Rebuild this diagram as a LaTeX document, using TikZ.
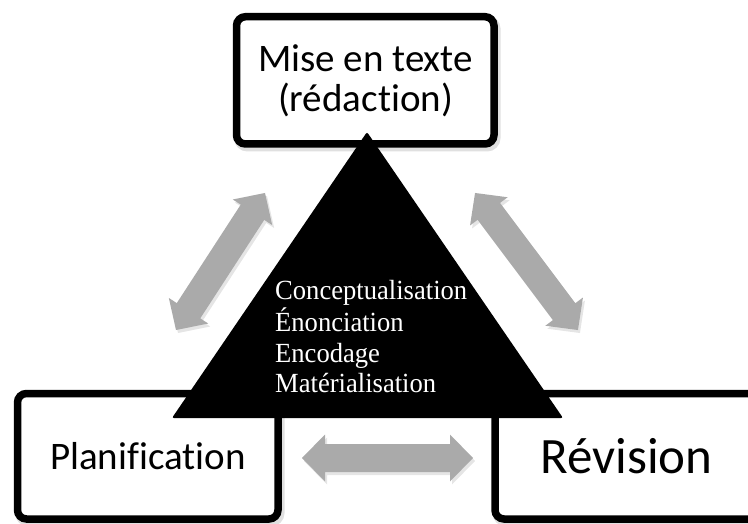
\documentclass[tikz,border=0pt]{standalone}
\usepackage{fontspec}
\setmainfont{Carlito}[Ligatures={NoCommon,NoContextual,NoRare},Contextuals=NoAlternate]
\newfontfamily\serifk{Liberation Serif}
\definecolor{arrowgray}{RGB}{170,170,170}
\newcommand\arrshape[2]{\fill[#2] (-#1/2,0) -- (-#1/2+23,-23.5) -- (-#1/2+23,-14) -- (#1/2-23,-14) -- (#1/2-23,-23.5) -- (#1/2,0) -- (#1/2-23,23.5) -- (#1/2-23,14) -- (-#1/2+23,14) -- (-#1/2+23,23.5) -- cycle;}
\newcommand\dblarr[4]{%
  \begin{scope}[shift={#2}, xshift=2pt, yshift=-3pt, rotate=#3]
    \arrshape{#4}{black, opacity=0.10}
  \end{scope}
  \begin{scope}[shift={#2}, rotate=#3]
    \coordinate (#1) at (0,0);
    \arrshape{#4}{arrowgray}
  \end{scope}}
\newcommand\sq[1]{\scalebox{0.96}[1]{#1}}
\begin{document}
\begin{tikzpicture}[x=1pt,y=-1pt,
  box/.style={draw=black, line width=7.5pt, rounded corners=9pt, fill=white, inner sep=0pt},
  boxshadow/.style={draw=black, line width=9pt, rounded corners=9pt, opacity=0.12},
  lbl/.style={font=\fontsize{39}{42}\selectfont, inner sep=0pt, anchor=base},
  inner/.style={font=\serifk\fontsize{27.7}{30}\selectfont, text=white, anchor=base west, inner sep=0pt}]
\useasboundingbox (0,0) rectangle (748,524);
% box shadows
\draw[boxshadow] (238.5,19.7) rectangle (496,147);
\draw[boxshadow] (19.5,396.5) rectangle (280,522);
\draw[boxshadow] (497,396.5) rectangle (780,522);
% boxes
\node[box, minimum width=257.5pt, minimum height=127.3pt] (top) at (365.25,80.35) {};
\node[box, minimum width=260.5pt, minimum height=125.5pt] (plan) at (147.75,456.25) {};
\node[box, minimum width=275pt, minimum height=125.5pt] (rev) at (632.5,456.25) {};
% labels
\node[lbl] (t1) at (365.5,71.7) {Mise en texte};
\node[lbl] (t2) at (365.5,112) {(rédaction)};
\node[lbl] (pl) at (148,469.5) {Planification};
\node[lbl, font=\fontsize{51}{55}\selectfont] (rv) at (626.5,473) {Révision};
% arrows
\dblarr{la}{(220.5,261.5)}{57}{163.4}
\dblarr{ra}{(526.5,261.5)}{-53.1}{171.4}
\dblarr{ba}{(387.5,458)}{0}{171}
% triangle
\fill[black, rounded corners=2pt] (367,132) -- (563,418) -- (172,418) -- cycle;
\node[inner] (c1) at (275,300) {\sq{Conceptualisation}};
\node[inner] (c2) at (275,331.5) {\sq{Énonciation}};
\node[inner] (c3) at (275,362) {\sq{Encodage}};
\node[inner] (c4) at (275,392.3) {\sq{Matérialisation}};
\end{tikzpicture}
\end{document}
